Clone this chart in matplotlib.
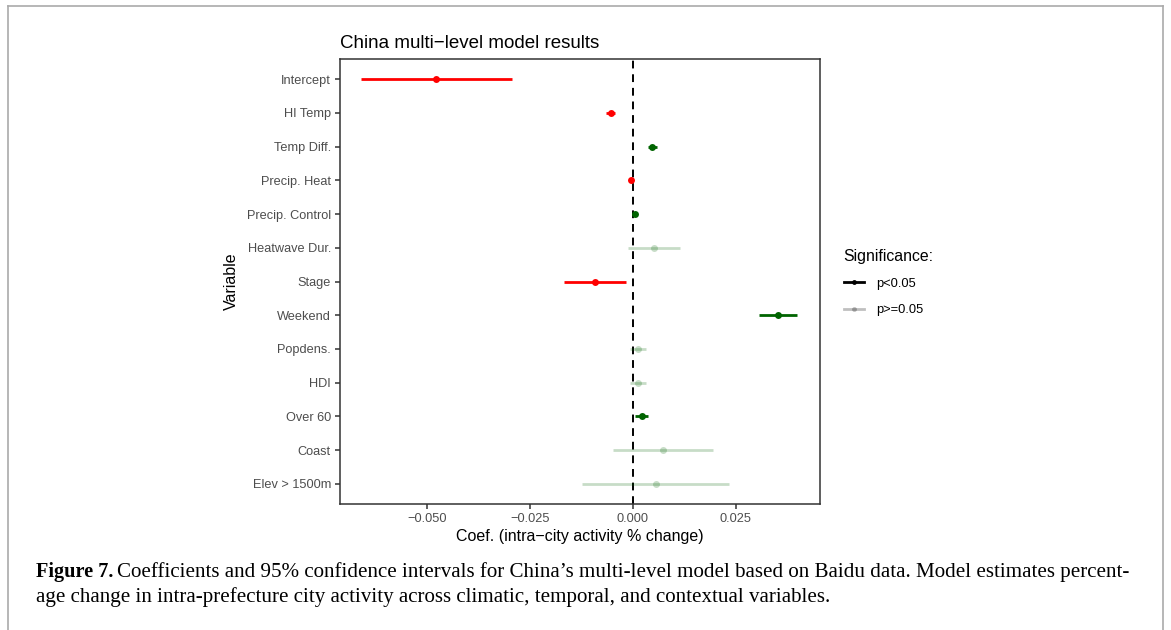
import numpy as np
import matplotlib.pyplot as plt
from matplotlib.lines import Line2D

plt.rcParams['font.family'] = ['Liberation Sans', 'DejaVu Sans']

# Model coefficients and 95% confidence intervals
variables = ['Intercept', 'HI Temp', 'Temp Diff.', 'Precip. Heat', 'Precip. Control',
             'Heatwave Dur.', 'Stage', 'Weekend', 'Popdens.', 'HDI', 'Over 60',
             'Coast', 'Elev > 1500m']
coef = [-0.0478, -0.0053, 0.0046, -0.0004, 0.0004, 0.0051, -0.0093, 0.0353,
        0.0012, 0.0012, 0.0021, 0.0072, 0.0055]
lower = [-0.0660, -0.0066, 0.0037, -0.0006, 0.0002, -0.0012, -0.0167, 0.0307,
         -0.0008, -0.0008, 0.0005, -0.0049, -0.0123]
upper = [-0.0294, -0.0044, 0.0058, -0.0002, 0.0006, 0.0115, -0.0018, 0.0399,
         0.0032, 0.0032, 0.0037, 0.0194, 0.0232]
significant = [True, True, True, True, True, False, True, True,
               False, False, True, False, False]
xticks = [-0.050, -0.025, 0.000, 0.025]

W, H = 1171, 630
fig = plt.figure(figsize=(W / 100, H / 100), dpi=100)

# thin grey frame around the figure panel
for xs, ys in [([8, 8], [6, 630]), ([8, 1163], [6, 6]), ([1163, 1163], [6, 630])]:
    fig.add_artist(Line2D([x / W for x in xs], [1 - y / H for y in ys],
                          color='#aaaaaa', lw=1.2))

ax = fig.add_axes([340 / W, 1 - 504 / H, 480 / W, 445 / H])

n = len(variables)
ypos = np.arange(n)
ax.axvline(0, color='black', ls=(0, (4, 3)), lw=1.4, zorder=1)

for i in range(n):
    col = '#ff0000' if coef[i] < 0 else '#006400'
    a = 1.0 if significant[i] else 0.22
    ax.plot([lower[i], upper[i]], [ypos[i], ypos[i]], color=col, alpha=a,
            lw=2.0, solid_capstyle='butt', zorder=2)
    ax.plot(coef[i], ypos[i], 'o', color=col, alpha=a, ms=5, mew=0, zorder=3)

ax.set_xlim(-0.0711, 0.0454)
ax.set_ylim(n - 1 + 0.6, -0.6)
ax.set_yticks(ypos)
ax.set_yticklabels(variables)
ax.set_xticks(xticks)
ax.set_xticklabels([f'{t:.3f}'.replace('-', '\u2212') for t in xticks])

for s in ax.spines.values():
    s.set_color('#333333')
    s.set_linewidth(1.1)
ax.tick_params(colors='#333333', length=3.5, width=1.1, labelsize=9.2,
               labelcolor='#4d4d4d', pad=3)

ax.set_xlabel('Coef. (intra\u2212city activity % change)', fontsize=11.5, labelpad=3)
ax.set_ylabel('Variable', fontsize=11.5, labelpad=6)

fig.text(340 / W, 1 - 48 / H, 'China multi\u2212level model results', fontsize=13.5,
         va='baseline', ha='left')

# legend
handles = [Line2D([], [], color='black', lw=2, marker='o', ms=3.5, mew=0),
           Line2D([], [], color='black', alpha=0.25, lw=2, marker='o', ms=3.5, mew=0)]
leg = fig.legend(handles, ['p<0.05', 'p>=0.05'], title='Significance:',
                 loc='upper left', bbox_to_anchor=(832 / W, 1 - 237 / H),
                 frameon=False, fontsize=9.3, title_fontsize=11.4,
                 handlelength=1.6, handletextpad=0.9, labelspacing=1.1,
                 alignment='left')

# caption
fig.canvas.draw()
r = fig.canvas.get_renderer()
cap_size = 15.1
t1 = fig.text(36 / W, 1 - 577 / H, 'Figure 7.', fontsize=cap_size - 0.5, weight='bold',
              family='Liberation Serif', va='baseline')
bb = t1.get_window_extent(renderer=r)
fig.text((bb.x1 + 4) / W, 1 - 577 / H,
         'Coefficients and 95% confidence intervals for China\u2019s multi-level model '
         'based on Baidu data. Model estimates percent-',
         fontsize=cap_size, family='Liberation Serif', va='baseline')
fig.text(36 / W, 1 - 602 / H,
         'age change in intra-prefecture city activity across climatic, temporal, '
         'and contextual variables.',
         fontsize=cap_size, family='Liberation Serif', va='baseline')

fig.savefig('out.png', dpi=100)
